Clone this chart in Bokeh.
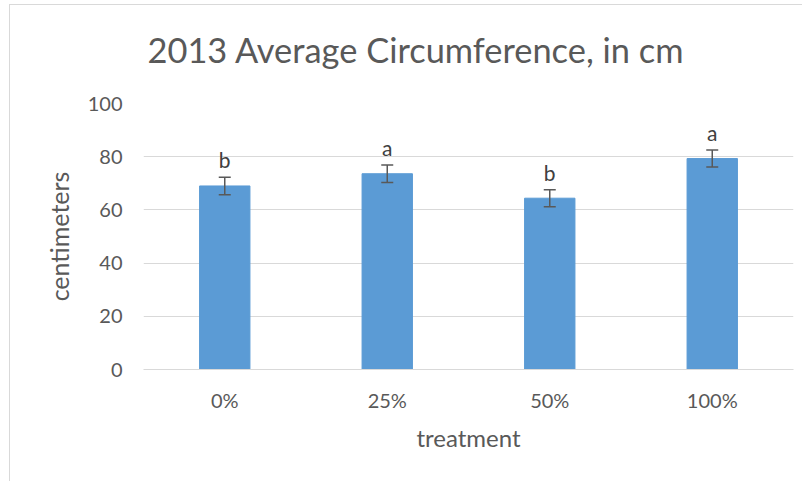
from bokeh.plotting import figure
from bokeh.models import ColumnDataSource, Whisker, LabelSet, TeeHead, FixedTicker, Title
from bokeh.core.properties import value
from bokeh.embed import file_html
from bokeh.resources import INLINE

treatments = ["0%", "25%", "50%", "100%"]
means = [69.0, 73.6, 64.4, 79.3]
errors = [3.3, 3.3, 3.2, 3.2]
letters = ["b", "a", "b", "a"]
y_ticks = [0, 20, 40, 60, 80, 100]
title_text = "2013 Average Circumference, in cm"

FONT = "Lato"
GRAY = "#595959"

src = ColumnDataSource(dict(
    t=treatments, m=means,
    lo=[m - e for m, e in zip(means, errors)],
    hi=[m + e for m, e in zip(means, errors)],
    lab=letters,
))

p = figure(x_range=treatments, y_range=(0, 100), width=793, height=477,
           output_backend="svg", toolbar_location=None,
           min_border_left=133, min_border_right=10,
           min_border_top=98, min_border_bottom=113)
p.outline_line_color = None
p.background_fill_color = "white"
p.border_fill_color = "white"
p.x_range.range_padding = 0
p.styles = {"margin-left": "9px", "margin-top": "4px",
            "border-left": "1px solid #d9d9d9", "border-top": "1px solid #d9d9d9"}

# spacer between the title and the plot area
p.add_layout(Title(text=" ", text_font_size="16px", standoff=10), "above")
p.add_layout(Title(text=title_text, align="left", offset=4, text_font=FONT,
                   text_font_size="34.4px", text_font_style="normal",
                   text_color=GRAY, standoff=10), "above")

p.vbar(x="t", top="m", width=0.31, source=src, fill_color="#5B9BD5",
       line_color="#5B9BD5")

w = Whisker(base="t", lower="lo", upper="hi", source=src, level="overlay",
            line_color="#595959", line_width=1.5,
            upper_head=TeeHead(size=12, line_color="#595959", line_width=1.5),
            lower_head=TeeHead(size=12, line_color="#595959", line_width=1.5))
p.add_layout(w)

labels = LabelSet(x="t", y="hi", text="lab", source=src, text_align="center",
                  text_baseline="alphabetic", y_offset=9, text_color="#404040",
                  text_font=value(FONT), text_font_size=value("21px"))
p.add_layout(labels)

# axes
p.yaxis.ticker = FixedTicker(ticks=y_ticks)
p.yaxis.axis_line_color = None
p.yaxis.major_tick_line_color = None
p.yaxis.major_tick_out = 0
p.yaxis.major_tick_in = 0
p.yaxis.minor_tick_line_color = None
p.yaxis.major_label_standoff = 21
p.yaxis.major_label_text_font = FONT
p.yaxis.major_label_text_font_size = "20px"
p.yaxis.major_label_text_color = GRAY
p.yaxis.axis_label = "centimeters"
p.yaxis.axis_label_text_font = FONT
p.yaxis.axis_label_text_font_size = "25px"
p.yaxis.axis_label_text_font_style = "normal"
p.yaxis.axis_label_text_color = GRAY
p.yaxis.axis_label_standoff = 11

p.xaxis.axis_line_color = "#d9d9d9"
p.xaxis.axis_line_width = 1
p.xaxis.major_tick_line_color = None
p.xaxis.major_tick_out = 0
p.xaxis.major_tick_in = 0
p.xaxis.minor_tick_line_color = None
p.xaxis.major_label_standoff = 18
p.xaxis.major_label_text_font = FONT
p.xaxis.major_label_text_font_size = "20px"
p.xaxis.major_label_text_color = GRAY
p.xaxis.axis_label = "treatment"
p.xaxis.axis_label_text_font = FONT
p.xaxis.axis_label_text_font_size = "24px"
p.xaxis.axis_label_text_font_style = "normal"
p.xaxis.axis_label_text_color = GRAY
p.xaxis.axis_label_standoff = 8

p.xgrid.grid_line_color = None
p.ygrid.grid_line_color = "#d9d9d9"
p.ygrid.grid_line_width = 1

open("out.html", "w").write(file_html(p, INLINE))
